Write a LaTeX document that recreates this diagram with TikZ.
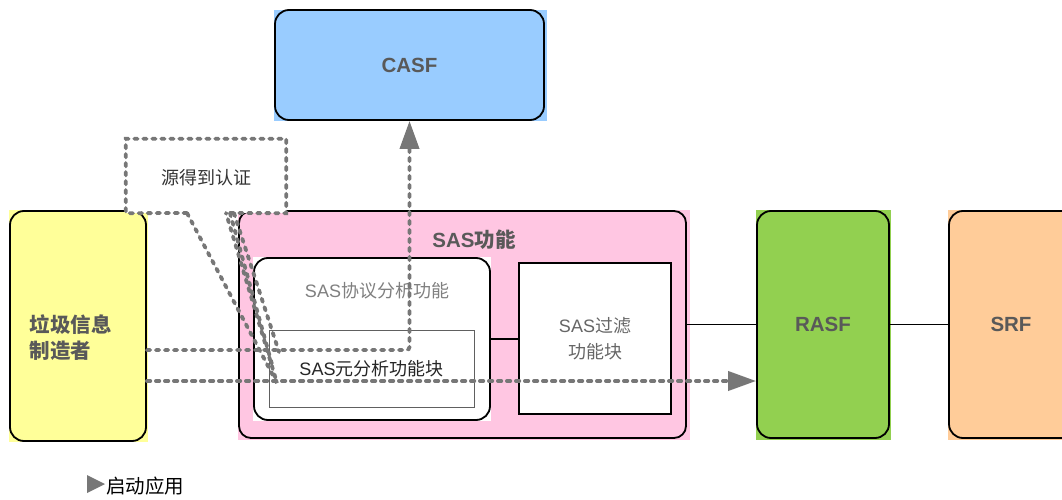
\documentclass[tikz,border=0pt]{standalone}
\usepackage{fontspec}
\setmainfont{Liberation Sans}
\newfontfamily\zh{Noto Sans CJK SC}
\newcommand{\cn}[1]{{\zh #1}}
\usetikzlibrary{arrows.meta}

\definecolor{casfblue}{HTML}{99CCFF}
\definecolor{spamyellow}{HTML}{FFFF99}
\definecolor{saspink}{HTML}{FFC6E2}
\definecolor{rasfgreen}{HTML}{92D050}
\definecolor{srforange}{HTML}{FFCC99}
\definecolor{labelgray}{HTML}{595959}
\definecolor{softgray}{HTML}{808080}
\definecolor{midgray}{HTML}{666666}
\definecolor{flowgray}{HTML}{777777}
\definecolor{thingray}{HTML}{606060}

\begin{document}
\begin{tikzpicture}[x=1pt,y=-1pt,
  frame/.style={draw=black, line width=1.8pt, rounded corners=14pt, inner sep=0pt},
  boldlabel/.style={font=\fontsize{20.5}{26}\selectfont\bfseries, text=labelgray},
  plainlabel/.style={font=\fontsize{18}{26}\selectfont},
  flow/.style={draw=flowgray, line width=3.8pt, line cap=round,
               dash pattern=on 3.4pt off 5.6pt},
  tiparrow/.style={-{Triangle[length=28pt,width=19pt]}},
]
\useasboundingbox (0,0) rectangle (1062,500);

% square colour patches behind the rounded frames
\fill[casfblue]   (274,10)  rectangle (547,121);
\fill[spamyellow] (9,210)   rectangle (148,442);
\fill[saspink]    (238,210) rectangle (690,440);
\fill[rasfgreen]  (756,210) rectangle (891,440);
\fill[srforange]  (948,210) rectangle (1062,440);

% main functional blocks
\node[frame, boldlabel, minimum width=269pt, minimum height=110pt] (casf) at (409.5,65) {CASF};
\node[frame, minimum width=136pt, minimum height=230pt] (spam) at (78,326) {};
\node[boldlabel, anchor=west, align=left] (spamtxt) at (26,338) {\cn{垃圾信息}\\\cn{制造者}};

\node[frame, rounded corners=12pt, minimum width=447pt, minimum height=227pt] (sas) at (462.5,324.5) {};
\node[boldlabel] (sastitle) at (474,240) {SAS\cn{功能}};

\fill[white] (253,257) rectangle (491,421);
\node[frame, minimum width=236pt, minimum height=162pt] (proto) at (372,339) {};
\node[plainlabel, text=softgray] (prototitle) at (377,291) {SAS\cn{协议分析功能}};

\node[draw=thingray, line width=0.8pt, plainlabel, text=black!85,
      minimum width=205pt, minimum height=77pt] (meta) at (371.5,368.5) {SAS\cn{元分析功能块}};

\node[draw=black, line width=1.6pt, fill=white, plainlabel, text=midgray, align=center,
      minimum width=152pt, minimum height=151pt] (filt) at (595,338.5) {SAS\cn{过滤}\\\cn{功能块}};

\node[frame, boldlabel, minimum width=132pt, minimum height=227pt] (rasf) at (823,324.5) {RASF};
\node[frame, minimum width=130pt, minimum height=227pt] (srf) at (1014,324.5) {};
\node[boldlabel] (srftxt) at (1011,324) {SRF};

% solid links
\draw[line width=1.4pt] (proto.east) -- (proto.east -| filt.west);
\draw[line width=1.4pt] (sas.east) -- (rasf.west);
\draw[line width=1.4pt] (rasf.east) -- (srf.west);

% callout
\node[fill=white, minimum width=160pt, minimum height=74pt, inner sep=0pt] (note) at (206,176) {};
\node[plainlabel, text=black!80] (notetxt) at (206,178) {\cn{源得到认证}};
\coordinate (tailL) at (187,213);
\coordinate (tailR) at (226,213);
\coordinate (tailR2) at (230,213);
\coordinate (tailR3) at (234,213);
\coordinate (tip) at (277,383);
\coordinate (tip2) at (273,368);
\coordinate (tip3) at (279,352);
\draw[flow] (tailL) -- (note.south west) -- (note.north west) -- (note.north east)
            -- (note.south east) -- (tailR);
\draw[flow] (tailL) -- (tip) -- (tailR);
\draw[flow] (tailR2) -- (tip2);
\draw[flow] (tailR3) -- (tip3);

% message flows
\coordinate (bend) at (409.5,350);
\coordinate (low) at (0,381);
\draw[flow, tiparrow, rounded corners=3pt] (spam.east |- bend) -- (bend) -- (casf.south);
\draw[flow, tiparrow] (spam.east |- low) -- (rasf.west |- low);

% legend
\fill[flowgray] (87,475) -- (105,484) -- (87,493) -- cycle;
\node[anchor=west, font=\fontsize{19.5}{22}\selectfont, inner sep=0pt] (legend) at (106,486) {\cn{启动应用}};
\end{tikzpicture}
\end{document}
